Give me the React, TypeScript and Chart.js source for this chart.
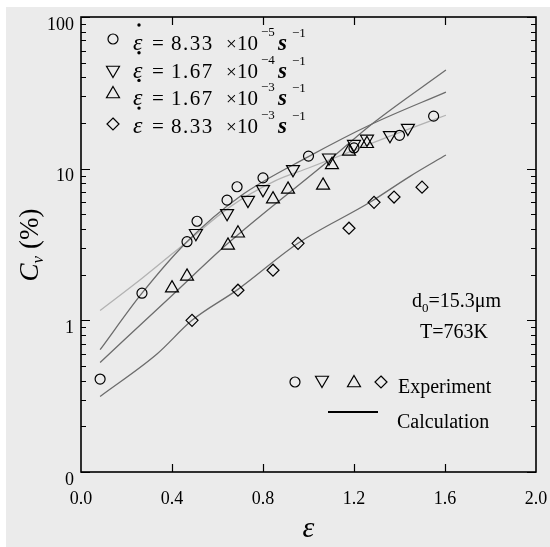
import React, { useEffect, useRef } from 'react';
import { Chart, registerables } from 'chart.js';

Chart.register(...registerables);

// ---- Experimental data (strain, Cv %) ----
const circleX = [0.084, 0.268, 0.466, 0.51, 0.642, 0.686, 0.8, 1.0, 1.2, 1.4, 1.55];
const circleY = [0.41, 1.51, 3.3, 4.5, 6.2, 7.6, 8.7, 12.1, 13.7, 16.6, 22.2];

const downTriX = [0.505, 0.642, 0.734, 0.8, 0.932, 1.09, 1.2, 1.257, 1.358, 1.437];
const downTriY = [3.75, 5.08, 6.2, 7.3, 9.9, 11.8, 14.5, 15.7, 16.6, 18.5];

const upTriX = [0.4, 0.466, 0.646, 0.69, 0.844, 0.91, 1.064, 1.103, 1.178, 1.257];
const upTriY = [1.63, 1.95, 3.12, 3.75, 6.3, 7.3, 7.76, 10.6, 13.0, 14.6];

const diamondX = [0.488, 0.69, 0.844, 0.954, 1.178, 1.288, 1.376, 1.499];
const diamondY = [1.0, 1.58, 2.14, 3.22, 4.05, 6.0, 6.5, 7.55];

// ---- Calculation curves ----
const calcAX = [0.084, 0.268, 0.466, 0.7, 1.0, 1.279, 1.604];
const calcAY = [0.64, 1.51, 3.3, 6.58, 12.0, 19.7, 32];

const calcBX = [0.084, 0.27, 0.466, 0.655, 0.853, 1.0, 1.358, 1.604];
const calcBY = [1.16, 1.9, 3.3, 5.6, 8.3, 10.1, 16.4, 22.5];

const calcCX = [0.084, 0.4, 0.646, 1.095, 1.279, 1.604];
const calcCY = [0.528, 1.46, 3.22, 11.5, 19.7, 44.7];

const calcDX = [0.084, 0.334, 0.488, 0.69, 0.954, 1.27, 1.446, 1.604];
const calcDY = [0.315, 0.6, 1.0, 1.6, 3.22, 6.0, 8.9, 12.3];

// ---- Axis ticks ----
const xTickValues = [0, 0.4, 0.8, 1.2, 1.6, 2.0];
const yTickValues = [0.1, 1, 10, 100];
const yTickLabels = ['0', '1', '10', '100'];

// ---- Legend / annotation text ----
const legendRates = ['8.33', '1.67', '1.67', '8.33'];
const legendExps = ['−5', '−4', '−3', '−3'];
const legendSymbols = ['circle', 'down', 'up', 'diamond'];
const annotD = ['d', '0', '=15.3μm'];
const annotT = 'T=763K';
const expLabel = 'Experiment';
const calcLabel = 'Calculation';

const SERIF = '"Liberation Serif", "Times New Roman", serif';

function pts(xs: number[], ys: number[]) {
  return xs.map((x, i) => ({ x, y: ys[i] }));
}

function drawSymbol(ctx: CanvasRenderingContext2D, kind: string, x: number, y: number) {
  ctx.save();
  ctx.strokeStyle = '#000';
  ctx.lineWidth = 1.2;
  ctx.beginPath();
  if (kind === 'circle') {
    ctx.arc(x, y, 5, 0, Math.PI * 2);
  } else if (kind === 'up') {
    const r = 7.5;
    ctx.moveTo(x, y - r);
    ctx.lineTo(x + 0.866 * r, y + 0.5 * r);
    ctx.lineTo(x - 0.866 * r, y + 0.5 * r);
    ctx.closePath();
  } else if (kind === 'down') {
    const r = 7.5;
    ctx.moveTo(x, y + r);
    ctx.lineTo(x + 0.866 * r, y - 0.5 * r);
    ctx.lineTo(x - 0.866 * r, y - 0.5 * r);
    ctx.closePath();
  } else {
    const r = 6;
    ctx.moveTo(x, y - r);
    ctx.lineTo(x + r, y);
    ctx.lineTo(x, y + r);
    ctx.lineTo(x - r, y);
    ctx.closePath();
  }
  ctx.stroke();
  ctx.restore();
}

const overlayPlugin = {
  id: 'overlay',
  afterDraw(chart: any) {
    const ctx: CanvasRenderingContext2D = chart.ctx;
    const { left, right, top, bottom } = chart.chartArea;
    const xs = chart.scales.x;
    const ys = chart.scales.y;
    ctx.save();
    // frame
    ctx.strokeStyle = '#000';
    ctx.lineWidth = 1.6;
    ctx.strokeRect(left, top, right - left, bottom - top);

    // y ticks (inward, both sides)
    ctx.lineWidth = 1.2;
    ctx.beginPath();
    for (let d = 0.1; d < 100; d *= 10) {
      for (let m = 1; m <= 10; m++) {
        const v = d * m;
        const py = Math.round(ys.getPixelForValue(v)) + 0.5;
        const len = m === 1 || m === 10 ? 9 : 5;
        ctx.moveTo(left, py);
        ctx.lineTo(left + len, py);
        ctx.moveTo(right, py);
        ctx.lineTo(right - len, py);
      }
    }
    // x ticks (inward, top and bottom)
    xTickValues.slice(1, -1).forEach((v) => {
      const px = Math.round(xs.getPixelForValue(v)) + 0.5;
      ctx.moveTo(px, bottom);
      ctx.lineTo(px, bottom - 8);
      ctx.moveTo(px, top);
      ctx.lineTo(px, top + 8);
    });
    ctx.stroke();

    ctx.fillStyle = '#000';
    ctx.textBaseline = 'alphabetic';
    ctx.textAlign = 'left';

    // legend rows
    legendSymbols.forEach((sym, i) => {
      const base = 50 + i * 27.7;
      const symY = [39, 70, 94, 124][i];
      drawSymbol(ctx, sym, 113, symY);
      ctx.font = `italic 24px ${SERIF}`;
      ctx.fillText('ε', 133, base);
      ctx.beginPath();
      ctx.arc(139, base - 25, 1.7, 0, Math.PI * 2);
      ctx.fill();
      ctx.font = `21px ${SERIF}`;
      ctx.fillText('=', 152, base);
      (ctx as any).letterSpacing = '1.5px';
      ctx.fillText(legendRates[i], 171, base);
      (ctx as any).letterSpacing = '0px';
      ctx.font = `19px ${SERIF}`;
      ctx.fillText('×', 226, base);
      ctx.font = `21px ${SERIF}`;
      ctx.fillText('10', 237, base);
      ctx.font = `13px ${SERIF}`;
      ctx.fillText(legendExps[i], 261, base - 14);
      ctx.font = `bold italic 23px ${SERIF}`;
      ctx.fillText('s', 278, base);
      ctx.font = `13px ${SERIF}`;
      ctx.fillText('−1', 292, base - 13);
    });

    // y-axis title
    ctx.save();
    ctx.translate(38, 245);
    ctx.rotate(-Math.PI / 2);
    ctx.font = `italic 27px ${SERIF}`;
    const wC = ctx.measureText('C').width;
    ctx.font = `italic 17px ${SERIF}`;
    const wv = ctx.measureText('v').width;
    ctx.font = `27px ${SERIF}`;
    const wp = ctx.measureText(' (%)').width;
    let sx = -(wC + wv + wp) / 2;
    ctx.font = `italic 27px ${SERIF}`;
    ctx.fillText('C', sx, 0);
    sx += wC;
    ctx.font = `italic 17px ${SERIF}`;
    ctx.fillText('v', sx, 5);
    sx += wv;
    ctx.font = `27px ${SERIF}`;
    ctx.fillText(' (%)', sx, 0);
    ctx.restore();

    // annotations
    ctx.font = `20px ${SERIF}`;
    let ax = 412;
    ctx.fillText(annotD[0], ax, 307);
    ax += ctx.measureText(annotD[0]).width;
    ctx.font = `13px ${SERIF}`;
    ctx.fillText(annotD[1], ax, 312);
    ax += ctx.measureText(annotD[1]).width;
    ctx.font = `20px ${SERIF}`;
    ctx.fillText(annotD[2], ax, 307);
    ctx.fillText(annotT, 420, 338);

    // bottom legend
    drawSymbol(ctx, 'circle', 295, 382);
    drawSymbol(ctx, 'down', 322, 380);
    drawSymbol(ctx, 'up', 354, 383);
    drawSymbol(ctx, 'diamond', 381, 382);
    ctx.font = `20px ${SERIF}`;
    ctx.fillText(expLabel, 398, 393);
    ctx.beginPath();
    ctx.lineWidth = 2;
    ctx.moveTo(328, 412);
    ctx.lineTo(378, 412);
    ctx.stroke();
    ctx.fillText(calcLabel, 397, 428);

    ctx.restore();
  },
};

export default function App() {
  const ref = useRef<HTMLCanvasElement>(null);

  useEffect(() => {
    const canvas = ref.current;
    if (!canvas) return;
    const markerBase = {
      showLine: false,
      backgroundColor: 'rgba(0,0,0,0)',
      borderColor: '#000',
      borderWidth: 1.2,
      pointBorderWidth: 1.2,
    };
    const lineBase = {
      showLine: true,
      pointRadius: 0,
      borderWidth: 1.3,
      cubicInterpolationMode: 'monotone' as const,
      fill: false,
    };
    const chart = new Chart(canvas, {
      type: 'scatter',
      data: {
        datasets: [
          { ...markerBase, label: 'c', data: pts(circleX, circleY), pointStyle: 'circle', pointRadius: 5 },
          { ...markerBase, label: 'd', data: pts(downTriX, downTriY), pointStyle: 'triangle', pointRotation: 180, pointRadius: 7.5 },
          { ...markerBase, label: 'u', data: pts(upTriX, upTriY), pointStyle: 'triangle', pointRadius: 7.5 },
          { ...markerBase, label: 'r', data: pts(diamondX, diamondY), pointStyle: 'rectRot', pointRadius: 6 },
          { ...lineBase, label: 'A', data: pts(calcAX, calcAY), borderColor: '#6c6c6c' },
          { ...lineBase, label: 'B', data: pts(calcBX, calcBY), borderColor: '#b2b2b2' },
          { ...lineBase, label: 'C', data: pts(calcCX, calcCY), borderColor: '#6c6c6c' },
          { ...lineBase, label: 'D', data: pts(calcDX, calcDY), borderColor: '#6c6c6c' },
        ] as any,
      },
      options: {
        responsive: false,
        animation: false,
        devicePixelRatio: 1,
        layout: { padding: { left: 0, top: 17, right: 14, bottom: 0 } },
        plugins: { legend: { display: false }, tooltip: { enabled: false }, title: { display: false } },
        scales: {
          x: {
            type: 'linear',
            min: 0,
            max: 2,
            grid: { display: false, drawTicks: true, tickLength: 16 },
            border: { display: false },
            afterBuildTicks: (s: any) => {
              s.ticks = xTickValues.map((v) => ({ value: v }));
            },
            afterFit: (s: any) => {
              s.height = 75;
            },
            ticks: {
              autoSkip: false,
              maxRotation: 0,
              padding: 0,
              color: '#000',
              font: { family: SERIF, size: 18 },
              callback: (v: any) => Number(v).toFixed(1),
            },
            title: {
              display: true,
              text: 'ε',
              color: '#000',
              font: { family: SERIF, size: 30, style: 'italic' },
              padding: { top: 0, bottom: 0 },
            },
          },
          y: {
            type: 'logarithmic',
            min: 0.1,
            max: 100,
            grid: { display: false, drawTicks: true, tickLength: 7 },
            border: { display: false },
            afterBuildTicks: (s: any) => {
              s.ticks = yTickValues.map((v) => ({ value: v }));
            },
            afterFit: (s: any) => {
              s.width = 81;
            },
            ticks: {
              autoSkip: false,
              padding: 0,
              labelOffset: 8,
              color: '#000',
              font: { family: SERIF, size: 18 },
              callback: (v: any) => {
                const i = yTickValues.findIndex((t) => Math.abs(t - Number(v)) < 1e-9 * Math.max(1, t));
                return i >= 0 ? yTickLabels[i] : '';
              },
            },
          },
        },
      } as any,
      plugins: [overlayPlugin],
    });
    return () => chart.destroy();
  }, []);

  return (
    <div style={{ position: 'absolute', left: 0, top: 0, width: 550, height: 547, background: '#fff', overflow: 'hidden' }}>
      <div style={{ position: 'absolute', left: 6, top: 7, right: 0, bottom: 0, background: '#ebebeb' }} />
      <canvas
        ref={ref}
        width={550}
        height={547}
        style={{ position: 'absolute', left: 0, top: 0, width: 550, height: 547 }}
      />
    </div>
  );
}
